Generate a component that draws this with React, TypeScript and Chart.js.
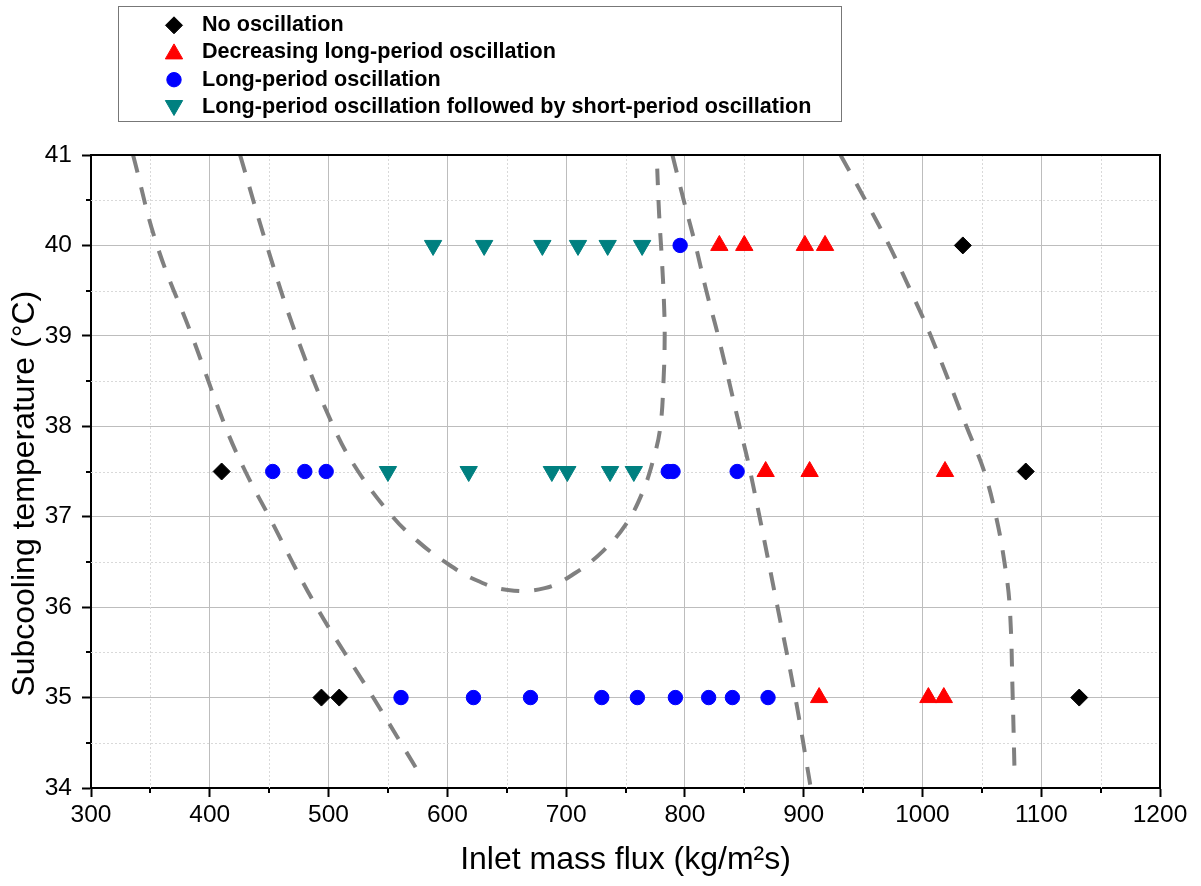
import React, { useEffect, useRef } from 'react';
import { Chart, registerables } from 'chart.js';

Chart.register(...registerables);

const FONT = '"Liberation Sans", Arial, sans-serif';

// ---- Data ----
const noOscX = [494, 509, 1132, 410, 1087, 1034];
const noOscY = [35, 35, 35, 37.5, 37.5, 40];

const decLongX = [913, 1005, 1018, 868, 905, 1019, 829, 850, 901, 918];
const decLongY = [35, 35, 35, 37.5, 37.5, 37.5, 40, 40, 40, 40];

const longX = [561, 622, 670, 730, 760, 792, 820, 840, 870, 453, 480, 498, 786, 790, 844, 796];
const longY = [35, 35, 35, 35, 35, 35, 35, 35, 35, 37.5, 37.5, 37.5, 37.5, 37.5, 37.5, 40];

const longShortX = [550, 618, 688, 701, 737, 757, 588, 631, 680, 710, 735, 764];
const longShortY = [37.5, 37.5, 37.5, 37.5, 37.5, 37.5, 40, 40, 40, 40, 40, 40];

// dashed boundary curves
const curveAx = [335.4, 355.6, 385, 413, 430, 450, 490, 537.6, 577];
const curveAy = [41, 40, 39, 38, 37.5, 37, 36, 35, 34.15];

const curveBx = [425.5, 448, 473, 504, 525, 554, 575, 598, 624, 651, 682, 708, 731, 750, 764, 774, 779.4, 782, 783, 782.3, 780.6, 778.3, 776.7];
const curveBy = [41, 40, 39, 38, 37.5, 37.0, 36.73, 36.5, 36.3, 36.19, 36.21, 36.38, 36.62, 36.91, 37.26, 37.66, 38.0, 38.5, 39.0, 39.4, 39.85, 40.35, 40.85];

const curveCx = [789.5, 799, 809, 818, 828, 846, 855, 878, 893, 906];
const curveCy = [41, 40.5, 40, 39.5, 39, 38, 37.5, 36, 35, 34];

const curveDx = [931, 952, 972, 990, 1007, 1037, 1052, 1062, 1069, 1073.5, 1076, 1077.6];
const curveDy = [41, 40.5, 40, 39.5, 39, 38, 37.5, 37, 36.5, 36, 35, 34.15];

const xMinorTicks = [350, 450, 550, 650, 750, 850, 950, 1050, 1150];
const yMinorTicks = [34.5, 35.5, 36.5, 37.5, 38.5, 39.5, 40.5];

const legendLabels = [
  'No oscillation',
  'Decreasing long-period oscillation',
  'Long-period oscillation',
  'Long-period oscillation followed by short-period oscillation',
];

const pts = (xs: number[], ys: number[]) => xs.map((x, i) => ({ x, y: ys[i] }));

const markerStyles = [
  { shape: 'diamond', color: '#000000', r: 8.5 },
  { shape: 'up', color: '#ff0000', r: 10 },
  { shape: 'circle', color: '#0000ff', r: 7.2 },
  { shape: 'down', color: '#008080', r: 10 },
];

function drawMarker(ctx: CanvasRenderingContext2D, shape: string, x: number, y: number, r: number, color: string) {
  ctx.beginPath();
  if (shape === 'diamond') {
    ctx.moveTo(x - r, y);
    ctx.lineTo(x, y - r);
    ctx.lineTo(x + r, y);
    ctx.lineTo(x, y + r);
  } else if (shape === 'up') {
    ctx.moveTo(x, y - r);
    ctx.lineTo(x + r * 0.866, y + r / 2);
    ctx.lineTo(x - r * 0.866, y + r / 2);
  } else if (shape === 'down') {
    ctx.moveTo(x, y + r);
    ctx.lineTo(x + r * 0.866, y - r / 2);
    ctx.lineTo(x - r * 0.866, y - r / 2);
  } else {
    ctx.arc(x, y, r, 0, Math.PI * 2);
  }
  ctx.closePath();
  ctx.fillStyle = color;
  ctx.strokeStyle = color;
  ctx.lineWidth = 1;
  ctx.fill();
  ctx.stroke();
}

const decorPlugin = {
  id: 'decor',
  beforeDatasetsDraw(chart: any) {
    const { ctx, chartArea, scales } = chart;
    const { left, right, top, bottom } = chartArea;
    const xs = scales.x;
    const ys = scales.y;
    ctx.save();
    ctx.strokeStyle = '#d9d9d9';
    ctx.lineWidth = 1;
    ctx.setLineDash([2, 2]);
    xMinorTicks.forEach((v) => {
      const px = Math.round(xs.getPixelForValue(v)) + 0.5;
      ctx.beginPath();
      ctx.moveTo(px, top);
      ctx.lineTo(px, bottom);
      ctx.stroke();
    });
    yMinorTicks.forEach((v) => {
      const py = Math.round(ys.getPixelForValue(v)) + 0.5;
      ctx.beginPath();
      ctx.moveTo(left, py);
      ctx.lineTo(right, py);
      ctx.stroke();
    });
    ctx.setLineDash([]);
    ctx.strokeStyle = '#000';
    ctx.lineWidth = 2;
    xMinorTicks.forEach((v) => {
      const px = Math.round(xs.getPixelForValue(v));
      ctx.beginPath();
      ctx.moveTo(px, bottom);
      ctx.lineTo(px, bottom + 5);
      ctx.stroke();
    });
    yMinorTicks.forEach((v) => {
      const py = Math.round(ys.getPixelForValue(v));
      ctx.beginPath();
      ctx.moveTo(left - 5, py);
      ctx.lineTo(left, py);
      ctx.stroke();
    });
    ctx.restore();
  },
  afterDatasetsDraw(chart: any) {
    const { ctx, chartArea } = chart;
    const { left, right, top, bottom } = chartArea;
    ctx.save();
    ctx.strokeStyle = '#000';
    ctx.lineWidth = 2;
    ctx.beginPath();
    ctx.moveTo(left - 1, top);
    ctx.lineTo(right, top);
    ctx.lineTo(right, bottom + 1);
    ctx.stroke();
    ctx.restore();
  },
  afterDraw(chart: any) {
    const { ctx } = chart;
    ctx.save();
    ctx.strokeStyle = '#777';
    ctx.lineWidth = 1;
    ctx.strokeRect(118.5, 6.5, 723, 115);
    const rows = [25.3, 52.4, 79.7, 107];
    ctx.font = `bold 21.6px ${FONT}`;
    ctx.textBaseline = 'middle';
    ctx.textAlign = 'left';
    legendLabels.forEach((lab, i) => {
      const m = markerStyles[i];
      let my = rows[i];
      if (m.shape === 'up') my += 1.5;
      if (m.shape === 'down') my -= 1.5;
      drawMarker(ctx, m.shape, 174, my, m.r, m.color);
      ctx.fillStyle = '#000';
      ctx.fillText(lab, 202, rows[i]);
    });
    ctx.restore();
  },
};

export default function App() {
  const ref = useRef<HTMLCanvasElement | null>(null);

  useEffect(() => {
    if (!ref.current) return;
    const curveStyle = {
      showLine: true,
      pointRadius: 0,
      borderColor: '#808080',
      borderWidth: 4,
      borderDash: [18, 15],
      tension: 0.4,
      fill: false,
      order: 5,
    };
    const chart = new Chart(ref.current, {
      type: 'scatter',
      data: {
        datasets: [
          {
            label: legendLabels[0],
            data: pts(noOscX, noOscY),
            pointStyle: 'rectRot',
            pointRadius: 8.5,
            backgroundColor: '#000000',
            borderColor: '#000000',
            borderWidth: 1,
            order: 1,
          },
          {
            label: legendLabels[1],
            data: pts(decLongX, decLongY),
            pointStyle: 'triangle',
            pointRadius: 10,
            backgroundColor: '#ff0000',
            borderColor: '#ff0000',
            borderWidth: 1,
            order: 1,
          },
          {
            label: legendLabels[2],
            data: pts(longX, longY),
            pointStyle: 'circle',
            pointRadius: 7.2,
            backgroundColor: '#0000ff',
            borderColor: '#0000ff',
            borderWidth: 1,
            order: 1,
          },
          {
            label: legendLabels[3],
            data: pts(longShortX, longShortY),
            pointStyle: 'triangle',
            rotation: 180,
            pointRadius: 10,
            backgroundColor: '#008080',
            borderColor: '#008080',
            borderWidth: 1,
            order: 1,
          },
          { label: 'boundary A', data: pts(curveAx, curveAy), ...curveStyle },
          { label: 'boundary B', data: pts(curveBx, curveBy), ...curveStyle },
          { label: 'boundary C', data: pts(curveCx, curveCy), ...curveStyle },
          { label: 'boundary D', data: pts(curveDx, curveDy), ...curveStyle },
        ] as any,
      },
      options: {
        responsive: false,
        animation: false,
        devicePixelRatio: 1,
        layout: { padding: { top: 155, right: 41, left: 0, bottom: 0 } },
        plugins: {
          legend: { display: false },
          tooltip: { enabled: false },
        },
        scales: {
          x: {
            type: 'linear',
            min: 300,
            max: 1200,
            ticks: {
              stepSize: 100,
              autoSkip: false,
              maxRotation: 0,
              color: '#000',
              padding: 4,
              font: { family: FONT, size: 24.5 },
              callback: (v: any) => String(v),
            },
            grid: { color: '#bdbdbd', lineWidth: 1, tickColor: '#000', tickWidth: 2, tickLength: 9 },
            border: { color: '#000', width: 2 },
            title: {
              display: true,
              text: 'Inlet mass flux (kg/m\u00B2s)',
              color: '#000',
              font: { family: FONT, size: 32 },
              padding: { top: 0, bottom: 7 },
            },
            afterFit: (s: any) => {
              s.height = 98;
            },
          },
          y: {
            type: 'linear',
            min: 34,
            max: 41,
            ticks: {
              stepSize: 1,
              autoSkip: false,
              color: '#000',
              padding: 10,
              font: { family: FONT, size: 24.5 },
              callback: (v: any) => String(v),
            },
            grid: { color: '#bdbdbd', lineWidth: 1, tickColor: '#000', tickWidth: 2, tickLength: 9 },
            border: { color: '#000', width: 2 },
            title: {
              display: true,
              text: 'Subcooling temperature (\u00B0C)\u00A0\u00A0\u00A0\u00A0\u00A0',
              color: '#000',
              font: { family: FONT, size: 32 },
              padding: { top: 6, bottom: 0 },
            },
            afterFit: (s: any) => {
              s.width = 91;
            },
          },
        },
      } as any,
      plugins: [decorPlugin],
    });
    return () => chart.destroy();
  }, []);

  return (
    <div style={{ position: 'fixed', left: 0, top: 0, width: 1201, height: 886, background: '#fff' }}>
      <canvas ref={ref} width={1201} height={886} style={{ display: 'block' }} />
    </div>
  );
}
